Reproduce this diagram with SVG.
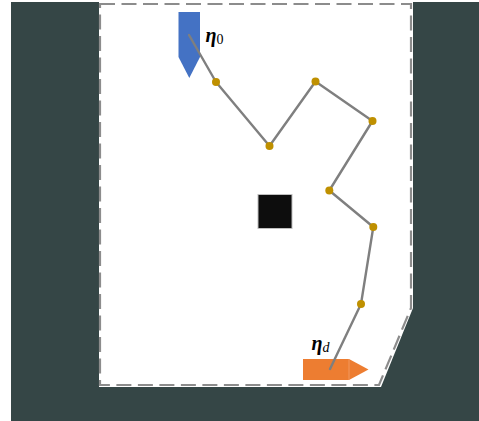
<svg xmlns="http://www.w3.org/2000/svg" width="479" height="421" viewBox="0 0 479 421">
  <style>
    .bound { fill: none; stroke: #8c8c8c; stroke-width: 2.2; stroke-dasharray: 15 6.5; }
    .path { fill: none; stroke: #7f7f7f; stroke-width: 2.4; stroke-linejoin: round; stroke-linecap: round; }
    .wp { fill: #bf9000; }
    .lbl { font-family: "Liberation Serif", "DejaVu Serif", serif; fill: #000; }
    .eta { font-size: 20px; font-weight: bold; font-style: italic; }
    .sub { font-size: 14px; }
  </style>
  <rect x="0" y="0" width="479" height="421" fill="#ffffff"/>
  <rect x="11" y="2" width="468" height="419" fill="#354646"/>
  <g id="workspace">
    <polygon points="99,2 413,2 413,308 381,387 99,387" fill="#ffffff"/>
    <polygon class="bound" points="100,4 411,4 411,308 379,385 100,385"/>
  </g>
  <g id="obstacle">
    <rect x="258" y="194.5" width="34" height="34" fill="#0d0d0d" stroke="#bfbfbf" stroke-width="1"/>
  </g>
  <g id="start">
    <polygon points="178.5,12 200,12 200,57 189.3,78 178.5,57" fill="#4472c4"/>
  </g>
  <g id="goal">
    <rect x="303" y="359" width="46" height="21" fill="#ed7d31"/>
    <polygon points="349,359 368.5,369.5 349,380" fill="#ed7d31"/>
    <line x1="349" y1="359" x2="349" y2="380" stroke="#f3a06a" stroke-width="0.8"/>
  </g>
  <g id="connectors">
    <polyline class="path" points="189,35 216,82 269.5,146 315.5,81.5 372.5,121 329.3,190.5 373.3,227 361,304 330,369"/>
  </g>
  <g id="waypoints">
    <g id="wp1"><circle class="wp" cx="216" cy="82" r="4"/></g>
    <g id="wp2"><circle class="wp" cx="269.5" cy="146" r="4"/></g>
    <g id="wp3"><circle class="wp" cx="315.5" cy="81.5" r="4"/></g>
    <g id="wp4"><circle class="wp" cx="372.5" cy="121" r="4"/></g>
    <g id="wp5"><circle class="wp" cx="329.3" cy="190.5" r="4"/></g>
    <g id="wp6"><circle class="wp" cx="373.3" cy="227" r="4"/></g>
    <g id="wp7"><circle class="wp" cx="361" cy="304" r="4"/></g>
  </g>
  <g id="label-start">
    <text class="lbl" x="205.5" y="42"><tspan class="eta">η</tspan><tspan class="sub" dy="2">0</tspan></text>
  </g>
  <g id="label-goal">
    <text class="lbl" x="311.5" y="350"><tspan class="eta">η</tspan><tspan class="sub" font-style="italic" dy="2">d</tspan></text>
  </g>
</svg>
